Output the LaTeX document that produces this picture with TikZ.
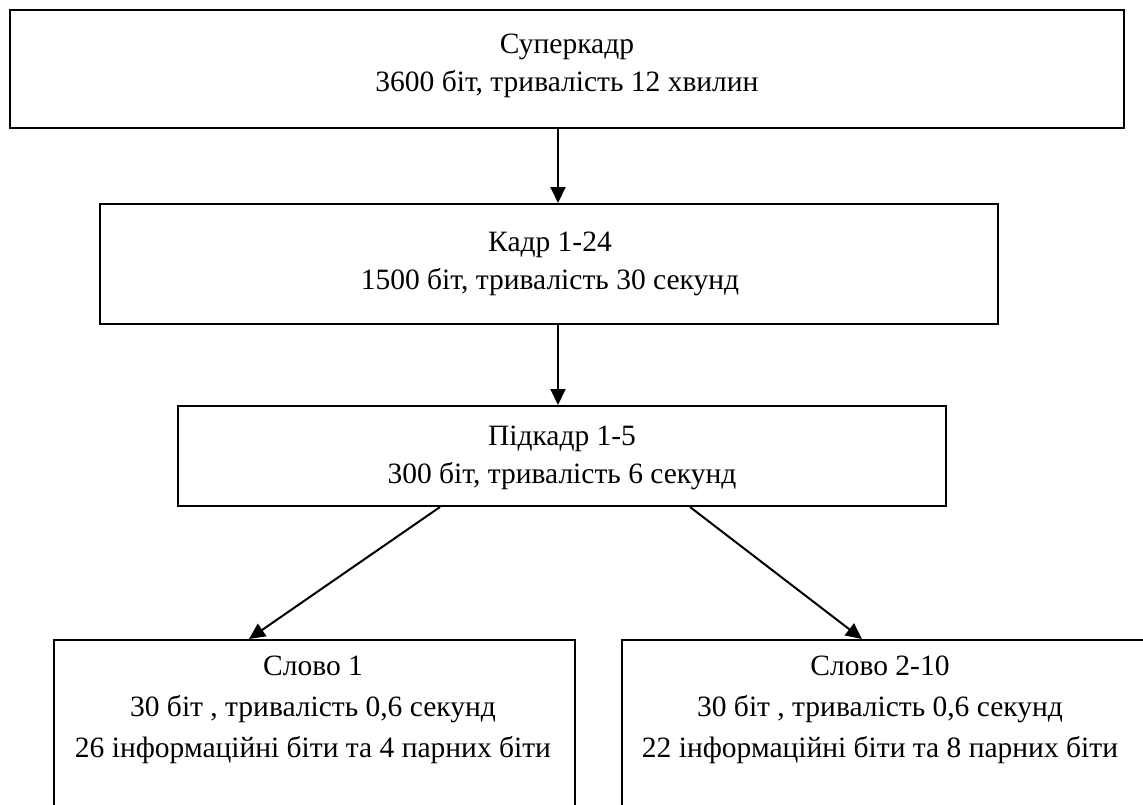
\documentclass[tikz,border=0pt]{standalone}
\usepackage{fontspec}
\setmainfont{Liberation Serif}
\usetikzlibrary{arrows.meta}
\begin{document}
\begin{tikzpicture}[x=1pt,y=-1pt,
  boxnode/.style={draw=black,line width=2pt,inner sep=0pt,rectangle},
  txt/.style={inner sep=0pt,anchor=base,font=\fontsize{29.5}{40}\selectfont},
  arr/.style={line width=2pt,-{Triangle[length=16pt,width=15pt]}}]
\useasboundingbox (0,0) rectangle (1143,804);
% boxes
\node[boxnode,minimum width=1114pt,minimum height=118pt] (b1) at (567,69) {};
\node[boxnode,minimum width=898pt,minimum height=120pt] (b2) at (549,264) {};
\node[boxnode,minimum width=768pt,minimum height=100pt] (b3) at (562,456) {};
\node[boxnode,minimum width=521pt,minimum height=180pt] (b4) at (314.5,730) {};
\node[boxnode,minimum width=538pt,minimum height=180pt] (b5) at (891,730) {};
% texts
\node[txt] (t1a) at (567,53) {Суперкадр};
\node[txt] (t1b) at (567,91) {3600 біт, тривалість 12 хвилин};
\node[txt] (t2a) at (550,251) {Кадр 1-24};
\node[txt] (t2b) at (550,289) {1500 біт, тривалість 30 секунд};
\node[txt] (t3a) at (562,445) {Підкадр 1-5};
\node[txt] (t3b) at (562,483) {300 біт, тривалість 6 секунд};
\node[txt] (t4a) at (313,675) {Слово 1};
\node[txt] (t4b) at (313,716) {30 біт , тривалість 0,6 секунд};
\node[txt] (t4c) at (313,757) {26 інформаційні біти та 4 парних біти};
\node[txt] (t5a) at (880,675) {Слово 2-10};
\node[txt] (t5b) at (880,716) {30 біт , тривалість 0,6 секунд};
\node[txt] (t5c) at (880,757) {22 інформаційні біти та 8 парних біти};
% arrows
\draw[arr] (b1.south -| 558,0) -- (b2.north -| 558,0);
\draw[arr] (b2.south -| 558,0) -- (b3.north -| 558,0);
\draw[arr] (b3.south -| 440,0) -- (b4.north -| 249,0);
\draw[arr] (b3.south -| 690,0) -- (b5.north -| 862,0);
\end{tikzpicture}
\end{document}
